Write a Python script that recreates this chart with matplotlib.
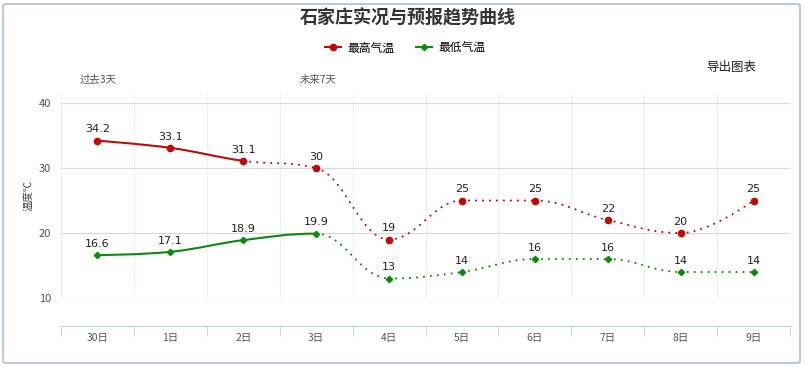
import matplotlib
matplotlib.use('Agg')
import matplotlib.pyplot as plt
from matplotlib.path import Path
from matplotlib.patches import PathPatch, FancyBboxPatch
from matplotlib.lines import Line2D
import numpy as np

plt.rcParams['font.family'] = ['Noto Sans CJK SC', 'DejaVu Sans']

days = ['30日', '1日', '2日', '3日', '4日', '5日', '6日', '7日', '8日', '9日']
high = [34.2, 33.1, 31.1, 30, 19, 25, 25, 22, 20, 25]
low = [16.6, 17.1, 18.9, 19.9, 13, 14, 16, 16, 14, 14]
high_solid_end = 2   # last observed index of the max series
low_solid_end = 3

red = '#c00a0a'
green = '#0b8a0b'


def spline_controls(x, y, smoothing=1.5):
    # highcharts-like spline control points
    n = len(x)
    lc = [(x[i], y[i]) for i in range(n)]
    rc = [(x[i], y[i]) for i in range(n)]
    d = smoothing + 1
    for i in range(1, n - 1):
        px, py = x[i], y[i]
        lx, ly = x[i - 1], y[i - 1]
        nx, ny = x[i + 1], y[i + 1]
        lcx = (smoothing * px + lx) / d
        lcy = (smoothing * py + ly) / d
        rcx = (smoothing * px + nx) / d
        rcy = (smoothing * py + ny) / d
        corr = (rcy - lcy) * (rcx - px) / (rcx - lcx) + py - rcy
        lcy += corr
        rcy += corr
        if lcy > ly and lcy > py:
            lcy = max(ly, py)
            rcy = 2 * py - lcy
        elif lcy < ly and lcy < py:
            lcy = min(ly, py)
            rcy = 2 * py - lcy
        if rcy > ny and rcy > py:
            rcy = max(ny, py)
            lcy = 2 * py - rcy
        elif rcy < ny and rcy < py:
            rcy = min(ny, py)
            lcy = 2 * py - rcy
        lc[i] = (lcx, lcy)
        rc[i] = (rcx, rcy)
    return lc, rc


def draw_series(ax, vals, solid_end, color, marker, ms):
    x = list(range(len(vals)))
    lc, rc = spline_controls(x, vals)
    for i in range(len(vals) - 1):
        verts = [(x[i], vals[i]), rc[i], lc[i + 1], (x[i + 1], vals[i + 1])]
        codes = [Path.MOVETO, Path.CURVE4, Path.CURVE4, Path.CURVE4]
        if i < solid_end:
            p = PathPatch(Path(verts, codes), fill=False, edgecolor=color,
                          lw=1.5, zorder=3)
        else:
            p = PathPatch(Path(verts, codes), fill=False, edgecolor=color,
                          lw=1.5, linestyle=(0, (0.05, 3.3)), capstyle='round',
                          zorder=3)
        ax.add_patch(p)
    ax.plot(x, vals, ls='none', marker=marker, ms=ms, color=color, zorder=4)
    for xi, v in zip(x, vals):
        ax.annotate(f'{v:g}', (xi, v), xytext=(0, 4.5), textcoords='offset points',
                    ha='center', va='bottom', fontsize=8, color='#222222',
                    family=['DejaVu Sans'])


fig = plt.figure(figsize=(8.05, 3.67), dpi=100)
ax = fig.add_axes([61 / 805, (367 - 298) / 367, 729 / 805, 205 / 367])
ax.set_xlim(-0.5, len(days) - 0.5)
ax.set_ylim(10, 41.54)

for s in ['top', 'right', 'left']:
    ax.spines[s].set_visible(False)
ax.spines['bottom'].set_position(('outward', 20.5))
ax.spines['bottom'].set_color('#c0d0e0')

ax.set_xticks(range(len(days)))
ax.set_xticklabels(days, fontsize=7.5, color='#555555')
ax.set_xticks(np.arange(-0.5, len(days), 1.0), minor=True)
ax.tick_params(axis='x', which='major', length=0, pad=5)
ax.tick_params(axis='x', which='minor', length=7, color='#c0d0e0')
ax.grid(axis='x', which='minor', color='#eceff4', lw=0.8)

ax.set_yticks([10, 20, 30, 40])
ax.tick_params(axis='y', length=0, labelsize=8, labelcolor='#555555', pad=7)
ax.grid(axis='y', which='major', color='#d8d8d8', lw=0.8)
ax.set_axisbelow(True)

ax.set_ylabel('温度℃', fontsize=7.5, color='#444444', labelpad=3)

draw_series(ax, high, high_solid_end, red, 'o', 4.5)
draw_series(ax, low, low_solid_end, green, 'D', 3.2)

fig.text(408 / 805, 1 - 18 / 367, '石家庄实况与预报趋势曲线', ha='center', va='center',
         fontsize=13, fontweight='bold', color='#333333')
fig.text(80 / 805, 1 - 80 / 367, '过去3天', ha='left', va='center', fontsize=7.5,
         color='#555555')
fig.text(300 / 805, 1 - 80 / 367, '未来7天', ha='left', va='center', fontsize=7.5,
         color='#555555')
fig.text(731 / 805, 1 - 67 / 367, '导出图表', ha='center', va='center', fontsize=9,
         color='#222222')

handles = [Line2D([], [], color=red, lw=1.5, marker='o', ms=4.5),
           Line2D([], [], color=green, lw=1.5, marker='D', ms=3.2)]
fig.legend(handles, ['最高气温', '最低气温'], loc='center', ncol=2,
           bbox_to_anchor=(405 / 805, 1 - 48 / 367), frameon=False, fontsize=8.5,
           handlelength=1.4, handletextpad=0.5, columnspacing=1.8)

border = FancyBboxPatch((3 / 805, 4 / 367), 797 / 805, 359 / 367,
                        boxstyle='round,pad=0,rounding_size=0.004',
                        transform=fig.transFigure, fill=False,
                        edgecolor='#a9bfdf', lw=1.2)
fig.patches.append(border)

fig.savefig('out.png', dpi=100)
